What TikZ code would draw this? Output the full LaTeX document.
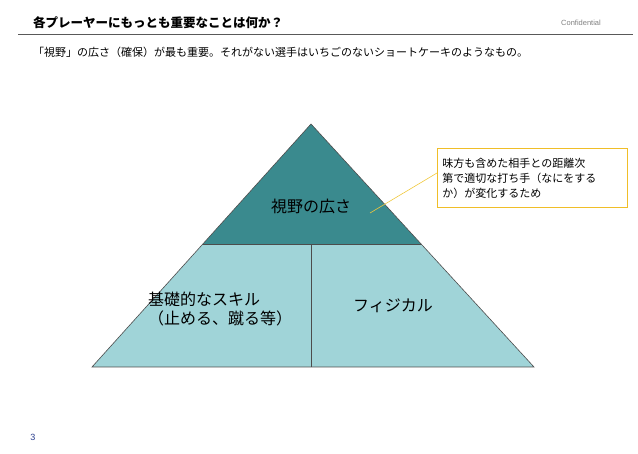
\documentclass[tikz,border=0pt]{standalone}
\usepackage{fontspec}
\setmainfont{Noto Sans CJK JP}
\newfontfamily\lat{Liberation Sans}
\definecolor{light}{RGB}{160,212,216}
\definecolor{dark}{RGB}{58,138,142}
\definecolor{boxy}{RGB}{240,190,40}
\definecolor{leady}{RGB}{240,200,60}
\definecolor{pgblue}{RGB}{40,60,140}
\begin{document}
\begin{tikzpicture}[x=1pt,y=-1pt,
  lbl/.style={inner sep=0pt,font=\fontsize{16}{19}\selectfont},
  side/.style={draw=gray!60!black,line width=0.6pt}]
\useasboundingbox (0,0) rectangle (638,454);
\node[anchor=west,inner sep=0pt,font=\bfseries\fontsize{12.5}{14}\selectfont] (title) at (33,23) {各プレーヤーにもっとも重要なことは何か？};
\node[anchor=east,inner sep=0pt,text=gray,font=\lat\fontsize{7.5}{9}\selectfont] (conf) at (601,23) {Confidential};
\coordinate (l1) at (18,34); \coordinate (l2) at (633,34);
\draw[gray!70!black,line width=0.8pt] (l1) -- (l2);
\node[anchor=west,inner sep=0pt,font=\fontsize{11}{13}\selectfont] (sub) at (33,52) {「視野」の広さ（確保）が最も重要。それがない選手はいちごのないショートケーキのようなもの。};
\coordinate (A) at (311,124); \coordinate (L) at (203,244); \coordinate (R) at (421,244);
\coordinate (BL) at (92,367); \coordinate (BR) at (534,367);
\coordinate (M1) at (311,244); \coordinate (M2) at (311,367);
\fill[light] (L) -- (R) -- (BR) -- (BL) -- cycle;
\fill[dark] (A) -- (R) -- (L) -- cycle;
\draw[side] (A) -- (BR) -- (BL) -- cycle;
\draw[side] (L) -- (R);
\draw[side] (M1) -- (M2);
\node[lbl] (top) at (311,206) {視野の広さ};
\node[lbl,align=left,anchor=west] (skill) at (148,309) {基礎的なスキル\\（止める、蹴る等）};
\node[lbl] (phys) at (393,306) {フィジカル};
\node[draw=boxy,line width=0.8pt,anchor=north west,minimum width=190pt,minimum height=59pt,inner sep=4pt,align=left,text width=180pt,font=\fontsize{11}{15}\selectfont] (note) at (437,148) {味方も含めた相手との距離次\\第で適切な打ち手（なにをする\\か）が変化するため};
\coordinate (pt) at (370,213);
\coordinate (ne) at (437,173);
\draw[leady,line width=0.6pt] (ne) -- (pt);
\node[inner sep=0pt,text=pgblue,font=\lat\fontsize{9}{11}\selectfont] (pg) at (33,437) {3};
\end{tikzpicture}
\end{document}
